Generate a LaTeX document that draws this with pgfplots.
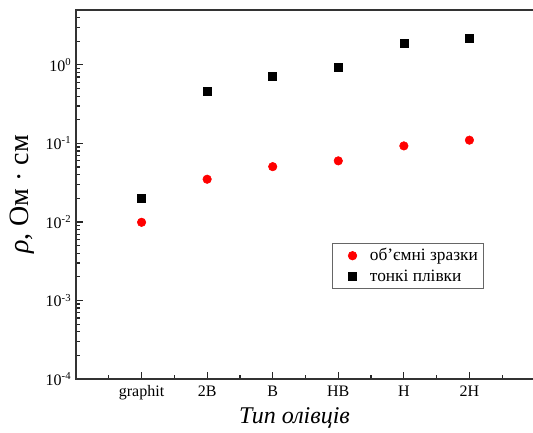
\documentclass[border=0pt]{standalone}
\usepackage{fontspec}
\setmainfont{Liberation Serif}
\usepackage{pgfplots}
\pgfplotsset{compat=1.18}

\begin{document}
\begin{tikzpicture}
\begin{axis}[
  scale only axis,
  width=344.25pt, height=276.75pt,
  ymode=log, log basis y=10,
  xmin=0, xmax=7, ymin=1e-4, ymax=5,
  xtick={0,...,7},
  xticklabels={,graphit,2B,B,HB,H,2H,},
  minor x tick num=1,
  ytick={1e-4,1e-3,1e-2,1e-1,1},
  yticklabels={10\textsuperscript{-4},10\textsuperscript{-3},10\textsuperscript{-2},10\textsuperscript{-1},10\textsuperscript{0}},
  minor ytick={2e-4,3e-4,4e-4,5e-4,6e-4,7e-4,8e-4,9e-4,
               2e-3,3e-3,4e-3,5e-3,6e-3,7e-3,8e-3,9e-3,
               2e-2,3e-2,4e-2,5e-2,6e-2,7e-2,8e-2,9e-2,
               0.2,0.3,0.4,0.5,0.6,0.7,0.8,0.9,2,3,4,5},
  tick pos=left,
  tick align=inside,
  major tick length=5.5pt,
  minor tick length=3pt,
  axis line style={line width=1pt, black!80},
  tick style={line width=0.9pt, black!85},
  ticklabel style={font=\fontsize{12}{14}\selectfont},
  xticklabel style={text height=8.5pt, text depth=2.7pt, yshift=-1pt},
  xlabel={\textit{Тип олівців}},
  xlabel style={font=\fontsize{18}{20}\selectfont, at={(axis description cs:0.476,-0.106)}, anchor=center},
  ylabel={\textit{ρ}, Ом · см},
  ylabel style={font=\fontsize{21}{24}\selectfont, at={(axis description cs:-0.118,0.5)}, anchor=center},
  legend style={at={(0.558,0.369)}, anchor=north west, draw=black!60, line width=0.5pt,
    font=\fontsize{13}{15}\selectfont, inner xsep=2pt, inner ysep=2pt, row sep=1pt},
  legend image code/.code={%
    \path (-0.45cm,0cm) (0.38cm,0cm);%
    \draw[mark repeat=2,mark phase=2,#1] plot coordinates {(-0.1cm,0cm) (0cm,0cm) (0.1cm,0cm)};%
  },
  legend cell align=left,
]
\addplot[only marks, mark=*, mark size=3.2pt, color=red] coordinates {
  (1,0.0099) (2,0.035) (3,0.0506) (4,0.060) (5,0.093) (6,0.11)
};
\addlegendentry{об'ємні зразки}
\addplot[only marks, mark=square*, mark size=3pt, color=black] coordinates {
  (1,0.0198) (2,0.46) (3,0.71) (4,0.935) (5,1.89) (6,2.19)
};
\addlegendentry{тонкі плівки}
\end{axis}
\pgfresetboundingbox
\path ([xshift=-57pt,yshift=-39.75pt]current axis.south west) rectangle ([xshift=-1.5pt,yshift=7.5pt]current axis.north east);
\end{tikzpicture}
\end{document}
